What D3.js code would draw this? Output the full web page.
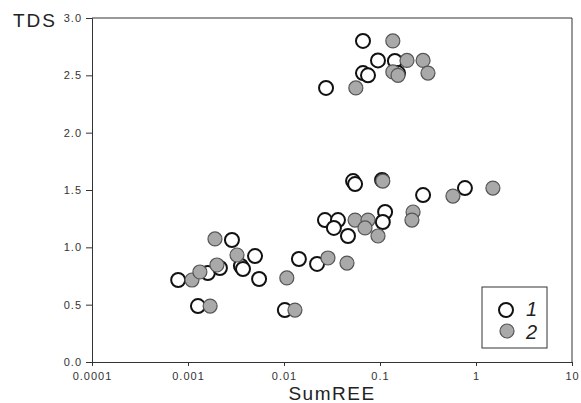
<!DOCTYPE html>
<html>
<head>
<meta charset="utf-8">
<script src="https://cdn.jsdelivr.net/npm/d3@7"></script>
<style>
  body { margin: 0; background: #fff; }
  svg { display: block; font-family: "Liberation Sans", Arial, sans-serif; }
</style>
</head>
<body>
<svg id="chart" width="581" height="403"></svg>
<script>
// group 1 (open circles)
const sumREE1 = [0.00079, 0.00127, 0.00161, 0.00215, 0.00287, 0.00356, 0.00374, 0.00499, 0.0055,
  0.0102, 0.0143, 0.0221, 0.0267, 0.0365, 0.0331, 0.0464, 0.0524, 0.055, 0.113, 0.107, 0.105,
  0.281, 0.767, 0.0274, 0.0665, 0.0953, 0.143, 0.0665, 0.075, 0.154];
const tds1 = [0.715, 0.488, 0.776, 0.820, 1.064, 0.837, 0.811, 0.924, 0.724,
  0.453, 0.898, 0.855, 1.238, 1.238, 1.169, 1.099, 1.578, 1.552, 1.308, 1.221, 1.587,
  1.456, 1.517, 2.39, 2.80, 2.63, 2.625, 2.52, 2.50, 2.52];

// group 2 (grey circles)
const sumREE2 = [0.0011, 0.00133, 0.0017, 0.00191, 0.002, 0.00324, 0.0107, 0.013, 0.0287,
  0.0453, 0.055, 0.075, 0.0698, 0.0953, 0.107, 0.221, 0.215, 0.575, 1.50,
  0.056, 0.136, 0.191, 0.281, 0.136, 0.154, 0.316];
const tds2 = [0.715, 0.785, 0.488, 1.073, 0.846, 0.933, 0.733, 0.453, 0.907,
  0.863, 1.238, 1.238, 1.169, 1.099, 1.578, 1.308, 1.238, 1.447, 1.517,
  2.39, 2.80, 2.63, 2.63, 2.53, 2.50, 2.52];

const xTicks = [0.0001, 0.001, 0.01, 0.1, 1, 10];
const xTickLabels = ["0.0001", "0.001", "0.01", "0.1", "1", "10"];
const yTicks = [0, 0.5, 1, 1.5, 2, 2.5, 3];
const legendLabels = ["1", "2"];

const svg = d3.select("#chart");
const pLeft = 92, pRight = 572, pTop = 18, pBottom = 362;

const x = d3.scaleLog().domain([0.0001, 10]).range([pLeft, pRight]);
const y = d3.scaleLinear().domain([0, 3]).range([pBottom, pTop]);

const axisColor = "#333";

// frame (top + right)
svg.append("path")
  .attr("d", `M${pLeft},${pTop}H${pRight}V${pBottom}`)
  .attr("fill", "none")
  .attr("stroke", axisColor)
  .attr("stroke-width", 1);

// x axis
let gx = svg.append("g")
  .attr("transform", `translate(0,${pBottom})`)
  .call(d3.axisBottom(x).tickValues(xTicks)
    .tickFormat((d, i) => xTickLabels[i]).tickSize(4).tickPadding(6));
gx.select(".domain").attr("stroke", axisColor);
gx.selectAll(".tick line").attr("stroke", axisColor);
gx.selectAll("text")
  .attr("fill", "#333").attr("font-size", 11).attr("letter-spacing", "1px")
  .attr("font-family", "Liberation Sans, Arial, sans-serif");

// y axis
let gy = svg.append("g")
  .attr("transform", `translate(${pLeft},0)`)
  .call(d3.axisLeft(y).tickValues(yTicks).tickFormat(d3.format(".1f")).tickSize(6).tickPadding(4));
gy.select(".domain").attr("stroke", axisColor);
gy.selectAll(".tick line").attr("stroke", axisColor);
gy.selectAll("text")
  .attr("fill", "#333").attr("font-size", 11).attr("letter-spacing", "1px")
  .attr("font-family", "Liberation Sans, Arial, sans-serif");

// axis titles
svg.append("text")
  .attr("x", 13).attr("y", 27)
  .attr("font-size", 19).attr("letter-spacing", "2px")
  .attr("fill", "#222")
  .text("TDS");

svg.append("text")
  .attr("x", (pLeft + pRight) / 2).attr("y", 400)
  .attr("text-anchor", "middle")
  .attr("font-size", 19).attr("letter-spacing", "1.5px")
  .attr("fill", "#222")
  .text("SumREE");

// points
const r = 7;
const pts1 = sumREE1.map((v, i) => ({x: v, y: tds1[i]}));
const pts2 = sumREE2.map((v, i) => ({x: v, y: tds2[i]}));

svg.append("g").selectAll("circle")
  .data(pts1)
  .enter().append("circle")
  .attr("cx", d => x(d.x))
  .attr("cy", d => y(d.y))
  .attr("r", r)
  .attr("fill", "#fff")
  .attr("stroke", "#111")
  .attr("stroke-width", 2);

svg.append("g").selectAll("circle")
  .data(pts2)
  .enter().append("circle")
  .attr("cx", d => x(d.x))
  .attr("cy", d => y(d.y))
  .attr("r", r)
  .attr("fill", "#a9a9a9")
  .attr("stroke", "#555")
  .attr("stroke-width", 1.2);

// legend
let lg = svg.append("g");
lg.append("rect")
  .attr("x", 482).attr("y", 287).attr("width", 65).attr("height", 61)
  .attr("fill", "#fff").attr("stroke", axisColor).attr("stroke-width", 1);

lg.append("circle").attr("cx", 506).attr("cy", 310).attr("r", r)
  .attr("fill", "#fff").attr("stroke", "#111").attr("stroke-width", 2);
lg.append("circle").attr("cx", 507).attr("cy", 331).attr("r", r)
  .attr("fill", "#a9a9a9").attr("stroke", "#555").attr("stroke-width", 1.2);

lg.selectAll("text.lab")
  .data(legendLabels)
  .enter().append("text")
  .attr("class", "lab")
  .attr("x", 526)
  .attr("y", (d, i) => 316 + i * 23)
  .attr("font-size", 20)
  .attr("font-style", "italic")
  .attr("fill", "#222")
  .text(d => d);
</script>
</body>
</html>
